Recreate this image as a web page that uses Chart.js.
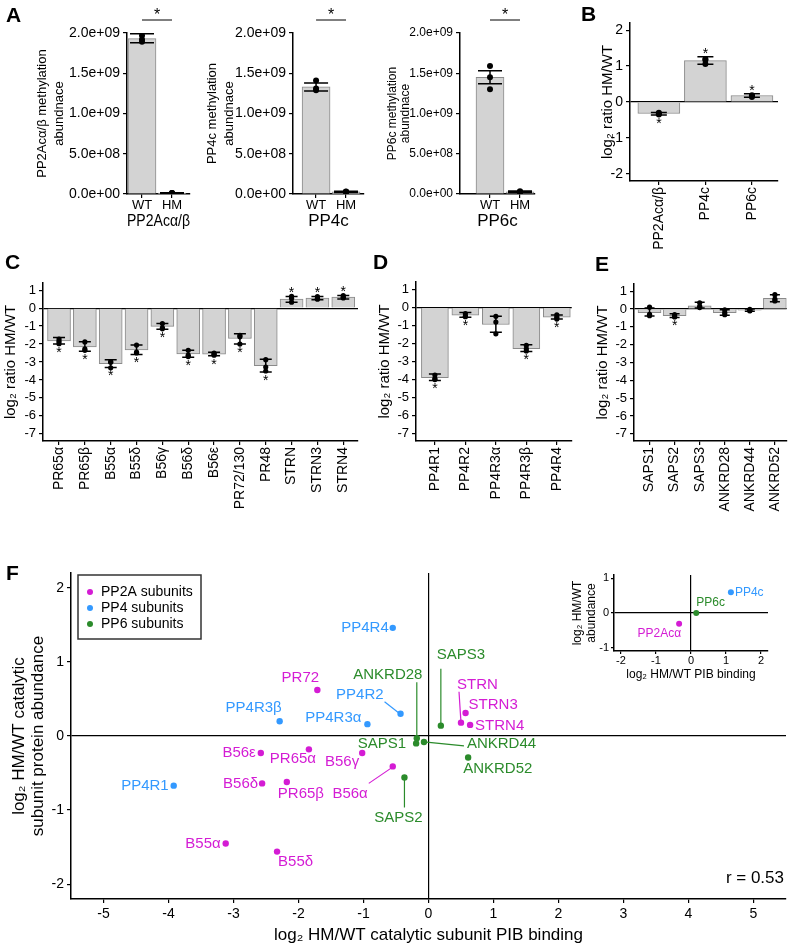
<!DOCTYPE html>
<html lang="en">
<head>
<meta charset="UTF-8">
<title>PP2A / PP4 / PP6 methylation</title>
<style>
  body { margin: 0; background: #fff; }
  #page { position: relative; width: 794px; height: 948px; font-family: "Liberation Sans", Arial, sans-serif; }
  .box { position: absolute; }
  .tag { position: absolute; font-weight: bold; font-size: 21px; line-height: 1; }
</style>
</head>
<body>
<div id="page">
  <div class="box" id="a1" style="left:0;top:0;width:200px;height:238px"><canvas></canvas></div>
  <div class="box" id="a2" style="left:190px;top:0;width:190px;height:238px"><canvas></canvas></div>
  <div class="box" id="a3" style="left:375px;top:0;width:180px;height:238px"><canvas></canvas></div>
  <div class="box" id="b" style="left:585px;top:0;width:209px;height:250px"><canvas></canvas></div>
  <div class="box" id="c" style="left:0;top:250px;width:370px;height:300px"><canvas></canvas></div>
  <div class="box" id="d" style="left:376px;top:250px;width:200px;height:300px"><canvas></canvas></div>
  <div class="box" id="e" style="left:580px;top:250px;width:214px;height:300px"><canvas></canvas></div>
  <div class="box" id="f" style="left:0;top:560px;width:794px;height:388px"><canvas></canvas></div>
  <div class="box" id="inset" style="left:560px;top:565px;width:234px;height:125px"><canvas></canvas></div>
  <div class="tag" style="left:6px;top:4px">A</div>
  <div class="tag" style="left:581px;top:3px">B</div>
  <div class="tag" style="left:5px;top:251px">C</div>
  <div class="tag" style="left:373px;top:251px">D</div>
  <div class="tag" style="left:595px;top:253px">E</div>
  <div class="tag" style="left:6px;top:562px">F</div>
</div>
<script src="https://cdn.jsdelivr.net/npm/chart.js"></script>
<script>
// ---- data ----
// A: methylated catalytic subunit abundance
const methLabels = ['WT', 'HM'];
const methTicks = [0, 5e8, 1e9, 1.5e9, 2e9];
const pp2acMeth = [1.93e9, 0.012e9];
const pp2acMethLow = [1.88e9, 0.008e9];
const pp2acMethHigh = [1.99e9, 0.016e9];
const pp2acMethReps = [[1.97e9, 1.92e9, 1.89e9], [0.011e9, 0.013e9, 0.010e9]];
const pp4cMeth = [1.33e9, 0.027e9];
const pp4cMethLow = [1.28e9, 0.020e9];
const pp4cMethHigh = [1.38e9, 0.034e9];
const pp4cMethReps = [[1.41e9, 1.31e9, 1.29e9], [0.030e9, 0.025e9, 0.027e9]];
const pp6cMeth = [1.45e9, 0.028e9];
const pp6cMethLow = [1.37e9, 0.020e9];
const pp6cMethHigh = [1.53e9, 0.036e9];
const pp6cMethReps = [[1.59e9, 1.45e9, 1.30e9], [0.035e9, 0.025e9, 0.024e9]];

// B: catalytic subunits, log2 HM/WT
const catLabels = ['PP2Acα/β', 'PP4c', 'PP6c'];
const catRatio = [-0.32, 1.15, 0.18];
const catLow = [-0.36, 1.05, 0.13];
const catHigh = [-0.29, 1.26, 0.23];
const catReps = [[-0.35, -0.33, -0.30], [1.20, 1.06, 1.17], [0.17, 0.19, 0.14]];
const catStar = [true, true, true];
const ratioTicksB = [-2, -1, 0, 1, 2];

// C: PP2A regulatory subunits
const pp2aLabels = ['PR65α', 'PR65β', 'B55α', 'B55δ', 'B56γ', 'B56δ', 'B56ε', 'PR72/130', 'PR48', 'STRN', 'STRN3', 'STRN4'];
const pp2aRatio = [-1.82, -2.16, -3.09, -2.33, -1.02, -2.55, -2.56, -1.69, -3.20, 0.51, 0.56, 0.62];
const pp2aLow = [-2.00, -2.40, -3.31, -2.58, -1.18, -2.73, -2.65, -2.00, -3.55, 0.33, 0.47, 0.51];
const pp2aHigh = [-1.64, -1.87, -2.87, -2.05, -0.85, -2.35, -2.45, -1.42, -2.84, 0.65, 0.65, 0.71];
const pp2aReps = [[-1.72, -1.85, -1.98], [-1.88, -2.27, -2.35], [-2.98, -3.02, -3.32], [-2.06, -2.45, -2.50],
  [-0.86, -1.15, -1.10], [-2.35, -2.62, -2.70], [-2.50, -2.58, -2.62], [-1.52, -1.60, -2.00],
  [-2.87, -3.28, -3.50], [0.66, 0.55, 0.33], [0.64, 0.55, 0.50], [0.70, 0.60, 0.57]];
const pp2aStar = [true, true, true, true, true, true, true, true, true, true, true, true];

// D: PP4 regulatory subunits
const pp4Labels = ['PP4R1', 'PP4R2', 'PP4R3α', 'PP4R3β', 'PP4R4'];
const pp4Ratio = [-3.89, -0.44, -0.95, -2.29, -0.55];
const pp4Low = [-4.05, -0.55, -1.38, -2.44, -0.65];
const pp4High = [-3.69, -0.29, -0.49, -2.07, -0.42];
const pp4Reps = [[-3.75, -3.95, -4.00], [-0.35, -0.50, -0.52], [-0.50, -0.82, -1.47], [-2.10, -2.30, -2.42], [-0.42, -0.55, -0.65]];
const pp4Star = [true, true, false, true, true];

// E: PP6 regulatory subunits
const pp6Labels = ['SAPS1', 'SAPS2', 'SAPS3', 'ANKRD28', 'ANKRD44', 'ANKRD52'];
const pp6Ratio = [-0.20, -0.38, 0.18, -0.20, -0.07, 0.60];
const pp6Low = [-0.40, -0.48, 0.05, -0.35, -0.13, 0.40];
const pp6High = [0.05, -0.27, 0.38, -0.04, 0.00, 0.80];
const pp6Reps = [[0.10, -0.30, -0.38], [-0.32, -0.42, -0.45], [0.35, 0.15, 0.08], [-0.05, -0.20, -0.32], [-0.02, -0.10, -0.10], [0.80, 0.55, 0.45]];
const pp6Star = [false, true, false, false, false, false];
const ratioTicksCDE = [-7, -6, -5, -4, -3, -2, -1, 0, 1];

// F: PIB binding vs protein abundance
const fPP2aNames = ['PR65α', 'PR65β', 'B55α', 'B55δ', 'B56α', 'B56γ', 'B56δ', 'B56ε', 'PR72', 'STRN', 'STRN3', 'STRN4'];
const fPP2aBinding = [-1.84, -2.18, -3.12, -2.33, -0.55, -1.02, -2.56, -2.58, -1.71, 0.50, 0.57, 0.64];
const fPP2aAbundance = [-0.18, -0.62, -1.45, -1.56, -0.41, -0.23, -0.64, -0.23, 0.62, 0.18, 0.31, 0.15];
const fPP4Names = ['PP4R1', 'PP4R2', 'PP4R3α', 'PP4R3β', 'PP4R4'];
const fPP4Binding = [-3.92, -0.43, -0.94, -2.29, -0.55];
const fPP4Abundance = [-0.67, 0.30, 0.16, 0.20, 1.46];
const fPP6Names = ['SAPS1', 'SAPS2', 'SAPS3', 'ANKRD28', 'ANKRD44', 'ANKRD52'];
const fPP6Binding = [-0.19, -0.37, 0.19, -0.18, -0.07, 0.61];
const fPP6Abundance = [-0.10, -0.56, 0.14, -0.03, -0.08, -0.29];
const fXTicks = [-5, -4, -3, -2, -1, 0, 1, 2, 3, 4, 5];
const fYTicks = [-2, -1, 0, 1, 2];
const fR = 0.53;

// F inset: catalytic subunits
const insetNames = ['PP2Acα', 'PP4c', 'PP6c'];
const insetBinding = [-0.34, 1.14, 0.15];
const insetAbundance = [-0.31, 0.60, 0.00];
const insetXTicks = [-2, -1, 0, 1, 2];
const insetYTicks = [-1, 0, 1];

// ---- styles ----
const FONT = '"Liberation Sans", Arial, sans-serif';
const MAGENTA = '#d41cd4', BLUE = '#3399ff', GREEN = '#2b8b2b';
Chart.defaults.font.family = FONT;
Chart.defaults.color = '#000';
Chart.defaults.animation = false;

const fixWidth = (w) => (s) => { s.width = w; };
const fixHeight = (h) => (s) => { s.height = h; };
const setTicks = (vals) => (s) => { s.ticks = vals.map(v => ({value: v})); };
const zeroOnly = (c) => (c.tick && c.tick.value === 0 ? '#000' : 'rgba(0,0,0,0)');
const sci = (v) => Number(v).toExponential(1).replace(/e([+-])(\d)$/, 'e$10$2');
const axisBorder = {display: true, color: '#000', width: 1.5};

function barPanel(id, d, o) {
  const reps = [];
  d.reps.forEach((r, i) => r.forEach(v => reps.push({x: i, y: v})));
  const extras = {
    id: 'extras',
    afterDatasetsDraw(chart) {
      const {ctx, chartArea, scales: {x, y}} = chart;
      ctx.save();
      ctx.strokeStyle = '#000';
      ctx.fillStyle = '#000';
      ctx.lineWidth = 1.5;
      d.low.forEach((lo, i) => {
        const px = x.getPixelForValue(i);
        const yl = y.getPixelForValue(lo), yh = y.getPixelForValue(d.high[i]);
        ctx.beginPath();
        ctx.moveTo(px, yl); ctx.lineTo(px, yh);
        ctx.moveTo(px - o.cap, yl); ctx.lineTo(px + o.cap, yl);
        ctx.moveTo(px - o.cap, yh); ctx.lineTo(px + o.cap, yh);
        ctx.stroke();
        if (d.stars && d.stars[i]) {
          ctx.font = '14px ' + FONT;
          ctx.textAlign = 'center';
          ctx.textBaseline = 'middle';
          ctx.fillText('*', px, d.means[i] < 0 ? yl + 9 : yh - 3);
        }
      });
      if (o.sig) {
        const x0 = x.getPixelForValue(0), x1 = x.getPixelForValue(1), t = chartArea.top;
        ctx.lineWidth = 1;
        ctx.beginPath();
        ctx.moveTo(x0, t - 13); ctx.lineTo(x1, t - 13);
        ctx.stroke();
        ctx.font = '16px ' + FONT;
        ctx.textAlign = 'center';
        ctx.textBaseline = 'middle';
        ctx.fillText('*', (x0 + x1) / 2, t - 17);
      }
      ctx.restore();
    }
  };
  return new Chart(document.querySelector('#' + id + ' canvas'), {
    type: 'bar',
    data: {
      datasets: [
        {type: 'bar', data: d.means.map((v, i) => ({x: i, y: v})), backgroundColor: '#d3d3d3',
         borderColor: '#8a8a8a', borderWidth: 1, barThickness: o.barPx, order: 2},
        {type: 'scatter', data: reps, pointRadius: o.dot, backgroundColor: '#000', borderWidth: 0, order: 1}
      ]
    },
    options: {
      responsive: true,
      maintainAspectRatio: false,
      layout: {padding: {top: o.padTop, right: o.padRight, left: 0, bottom: 0}},
      plugins: {legend: {display: false}, tooltip: {enabled: false}},
      scales: {
        x: {
          type: 'linear', min: o.xMin, max: o.xMax, offset: false,
          afterBuildTicks: setTicks(d.labels.map((_, i) => i)),
          afterFit: fixHeight(o.xH),
          ticks: {callback: (v) => d.labels[v], maxRotation: o.rot, minRotation: o.rot, autoSkip: false,
                  font: {size: o.xFont}, padding: o.xPad === undefined ? 2 : o.xPad},
          grid: {offset: false, drawOnChartArea: false, color: '#000', tickLength: 4, lineWidth: 1.2},
          border: axisBorder,
          title: o.xTitle ? {display: true, text: o.xTitle, font: {size: 17}, padding: {top: 0, bottom: 6}} : {display: false}
        },
        y: {
          min: o.yMin, max: o.yMax,
          afterBuildTicks: setTicks(o.yTicks),
          afterFit: fixWidth(o.yW),
          ticks: {font: {size: o.yFont}, padding: 3, callback: o.yFmt || ((v) => v)},
          grid: {drawOnChartArea: !!o.zero, color: zeroOnly, tickColor: '#000', tickLength: 4, lineWidth: 1.2},
          border: axisBorder,
          title: {display: true, text: o.yTitle, font: {size: o.yTitleSize, lineHeight: o.yTitleLH},
                  padding: {top: o.yTitlePad, bottom: 0}}
        }
      }
    },
    plugins: [extras]
  });
}

// A
const aCommon = {barPx: 28, dot: 3, cap: 12, sig: true, padTop: 33, xH: 44, rot: 0, xFont: 13, xPad: 0,
  yMin: 0, yMax: 2e9, yTicks: methTicks, yFont: 14, yFmt: sci, yTitleSize: 13, yTitleLH: 1.3};
barPanel('a1', {labels: methLabels, means: pp2acMeth, low: pp2acMethLow, high: pp2acMethHigh, reps: pp2acMethReps},
  Object.assign({}, aCommon, {padRight: 10, xMin: -0.5, xMax: 1.6, yW: 127, xTitle: 'PP2Acα/β',
    yTitle: ['PP2Acα/β methylation', 'abundnace'], yTitlePad: 34}));
barPanel('a2', {labels: methLabels, means: pp4cMeth, low: pp4cMethLow, high: pp4cMethHigh, reps: pp4cMethReps},
  Object.assign({}, aCommon, {padRight: 16, xMin: -0.77, xMax: 1.6, yW: 103, xTitle: 'PP4c',
    yTitle: ['PP4c methylation', 'abundnace'], yTitlePad: 14}));
barPanel('a3', {labels: methLabels, means: pp6cMeth, low: pp6cMethLow, high: pp6cMethHigh, reps: pp6cMethReps},
  Object.assign({}, aCommon, {padRight: 20, xMin: -1, xMax: 1.5, yW: 85, xTitle: 'PP6c', yFont: 12,
    yTitle: ['PP6c methylation', 'abundnace'], yTitleSize: 12, yTitlePad: 11, yTitleLH: 1.1}));

// B
barPanel('b', {labels: catLabels, means: catRatio, low: catLow, high: catHigh, reps: catReps, stars: catStar},
  {barPx: 42, dot: 3, cap: 8, padTop: 23, padRight: 16, xH: 69, rot: 90, xFont: 14, xMin: -0.62, xMax: 2.56,
   yMin: -2.2, yMax: 2.2, yTicks: ratioTicksB, yFont: 14, yW: 45, zero: true,
   yTitle: 'log₂ ratio HM/WT', yTitleSize: 15, yTitleLH: 1.2, yTitlePad: 14});

// C, D, E
const cdeCommon = {dot: 2.6, cap: 6, xH: 109, rot: 90, xFont: 14, yMin: -7.4, yMax: 1.4, yTicks: ratioTicksCDE,
  yFont: 13, zero: true, yTitle: 'log₂ ratio HM/WT', yTitleSize: 15, yTitleLH: 1.2};
barPanel('c', {labels: pp2aLabels, means: pp2aRatio, low: pp2aLow, high: pp2aHigh, reps: pp2aReps, stars: pp2aStar},
  Object.assign({}, cdeCommon, {barPx: 23, padTop: 33, padRight: 12, xMin: -0.62, xMax: 11.57, yW: 43, yTitlePad: 2}));
barPanel('d', {labels: pp4Labels, means: pp4Ratio, low: pp4Low, high: pp4High, reps: pp4Reps, stars: pp4Star},
  Object.assign({}, cdeCommon, {barPx: 27, padTop: 32, padRight: 4, xMin: -0.62, xMax: 4.49, yW: 40, yTitlePad: 0}));
barPanel('e', {labels: pp6Labels, means: pp6Ratio, low: pp6Low, high: pp6High, reps: pp6Reps, stars: pp6Star},
  Object.assign({}, cdeCommon, {barPx: 23, cap: 5, padTop: 34, padRight: 4, xMin: -0.62, xMax: 5.47, yW: 54, yTitlePad: 14}));

// F label placement: [align, dx, dy, optional leader line [x1, y1, x2, y2]] relative to the point
const fLabelPlace = {
  'PR65α': ['center', -16, 10], 'PR65β': ['left', -9, 12], 'B55α': ['right', -5, 0], 'B55δ': ['left', 1, 10],
  'B56α': ['right', -25, 27, [-24, 17, -2, 2]], 'B56γ': ['right', -3, 9], 'B56δ': ['right', -4, 0],
  'B56ε': ['right', -5, 0], 'PR72': ['center', -17, -12], 'STRN': ['left', -4, -38, [-2, -31, 0, 0]],
  'STRN3': ['left', 3, -8], 'STRN4': ['left', 5, 1],
  'PP4R1': ['right', -5, 0], 'PP4R2': ['right', -17, -19, [-16, -12, -2, -1]], 'PP4R3α': ['right', -6, -6],
  'PP4R3β': ['center', -26, -13], 'PP4R4': ['right', -4, 0],
  'SAPS1': ['right', -10, 0], 'SAPS2': ['center', -6, 40, [0, 0, 0, 30]], 'SAPS3': ['left', -4, -71, [0, -57, 0, 0]],
  'ANKRD28': ['center', -29, -63, [0, -56, 0, 0]], 'ANKRD44': ['left', 43, 2, [0, 0, 40, 4]],
  'ANKRD52': ['left', -5, 11],
  'PP2Acα': ['right', 2, 10], 'PP4c': ['left', 4, 0], 'PP6c': ['left', 0, -10]
};

function labelPlugin(size) {
  return {
    id: 'pointLabels',
    afterDatasetsDraw(chart) {
      const {ctx} = chart;
      ctx.save();
      ctx.font = size + 'px ' + FONT;
      ctx.textBaseline = 'middle';
      chart.data.datasets.forEach((ds, di) => {
        const meta = chart.getDatasetMeta(di);
        ds.names.forEach((name, i) => {
          const pt = meta.data[i];
          const col = Array.isArray(ds.labelColor) ? ds.labelColor[i] : ds.labelColor;
          const p = fLabelPlace[name] || ['left', 5, 0];
          ctx.fillStyle = col;
          ctx.strokeStyle = col;
          ctx.lineWidth = 1.2;
          if (p[3]) {
            ctx.beginPath();
            ctx.moveTo(pt.x + p[3][0], pt.y + p[3][1]);
            ctx.lineTo(pt.x + p[3][2], pt.y + p[3][3]);
            ctx.stroke();
          }
          ctx.textAlign = p[0];
          ctx.fillText(name, pt.x + p[1], pt.y + p[2]);
        });
      });
      ctx.restore();
    }
  };
}

const fGroups = [
  {name: 'PP2A subunits', color: MAGENTA, names: fPP2aNames, bind: fPP2aBinding, abund: fPP2aAbundance},
  {name: 'PP4 subunits', color: BLUE, names: fPP4Names, bind: fPP4Binding, abund: fPP4Abundance},
  {name: 'PP6 subunits', color: GREEN, names: fPP6Names, bind: fPP6Binding, abund: fPP6Abundance}
];

const fLegend = {
  id: 'fLegend',
  afterDraw(chart) {
    const {ctx, chartArea: a} = chart;
    ctx.save();
    const bx = a.left + 7, by = a.top + 2;
    ctx.strokeStyle = '#333';
    ctx.lineWidth = 1.5;
    ctx.strokeRect(bx, by, 123, 64);
    ctx.font = '14px ' + FONT;
    ctx.textBaseline = 'middle';
    ctx.textAlign = 'left';
    fGroups.forEach((g, i) => {
      const yy = by + 17 + i * 16;
      ctx.fillStyle = g.color;
      ctx.beginPath();
      ctx.arc(bx + 12, yy, 3, 0, Math.PI * 2);
      ctx.fill();
      ctx.fillStyle = '#000';
      ctx.fillText(g.name, bx + 23, yy);
    });
    ctx.font = '17px ' + FONT;
    ctx.textAlign = 'right';
    ctx.fillText('r = ' + fR.toFixed(2), a.right - 2, a.bottom - 21);
    ctx.restore();
  }
};

new Chart(document.querySelector('#f canvas'), {
  type: 'scatter',
  data: {
    datasets: fGroups.map(g => ({
      label: g.name, names: g.names, labelColor: g.color,
      data: g.names.map((n, i) => ({x: g.bind[i], y: g.abund[i]})),
      backgroundColor: g.color, pointRadius: 3.2, borderWidth: 0
    }))
  },
  options: {
    responsive: true,
    maintainAspectRatio: false,
    layout: {padding: {top: 13, right: 8, left: 0, bottom: 0}},
    plugins: {legend: {display: false}, tooltip: {enabled: false}},
    scales: {
      x: {
        min: -5.5, max: 5.5,
        afterBuildTicks: setTicks(fXTicks),
        afterFit: fixHeight(49),
        ticks: {font: {size: 14}, padding: 3},
        grid: {color: zeroOnly, tickColor: '#000', tickLength: 4, lineWidth: 1.2},
        border: axisBorder,
        title: {display: true, text: 'log₂ HM/WT catalytic subunit PIB binding', font: {size: 17}, padding: {top: 0, bottom: 2}}
      },
      y: {
        min: -2.2, max: 2.2,
        afterBuildTicks: setTicks(fYTicks),
        afterFit: fixWidth(71),
        ticks: {font: {size: 14}, padding: 3},
        grid: {color: zeroOnly, tickColor: '#000', tickLength: 4, lineWidth: 1.2},
        border: axisBorder,
        title: {display: true, text: ['log₂ HM/WT catalytic', 'subunit protein abundance'],
                font: {size: 17, lineHeight: 1.1}, padding: {top: 10, bottom: 0}}
      }
    }
  },
  plugins: [labelPlugin(15), fLegend]
});

// inset
const insetColors = [MAGENTA, BLUE, GREEN];
new Chart(document.querySelector('#inset canvas'), {
  type: 'scatter',
  data: {
    datasets: [{
      names: insetNames, labelColor: insetColors,
      data: insetNames.map((n, i) => ({x: insetBinding[i], y: insetAbundance[i]})),
      backgroundColor: insetColors, pointRadius: 3, borderWidth: 0
    }]
  },
  options: {
    responsive: true,
    maintainAspectRatio: false,
    layout: {padding: {top: 10, right: 26, left: 0, bottom: 0}},
    plugins: {legend: {display: false}, tooltip: {enabled: false}},
    scales: {
      x: {
        min: -2.2, max: 2.2,
        afterBuildTicks: setTicks(insetXTicks),
        afterFit: fixHeight(39),
        ticks: {font: {size: 11}, padding: 0},
        grid: {color: zeroOnly, tickColor: '#000', tickLength: 3, lineWidth: 1.2},
        border: axisBorder,
        title: {display: true, text: 'log₂ HM/WT PIB binding', font: {size: 12}, padding: {top: 0, bottom: 8}}
      },
      y: {
        min: -1.1, max: 1.1,
        afterBuildTicks: setTicks(insetYTicks),
        afterFit: fixWidth(54),
        ticks: {font: {size: 11}, padding: 2},
        grid: {color: zeroOnly, tickColor: '#000', tickLength: 3, lineWidth: 1.2},
        border: axisBorder,
        title: {display: true, text: ['log₂ HM/WT', 'abundance'], font: {size: 12, lineHeight: 1.17},
                padding: {top: 11, bottom: 0}}
      }
    }
  },
  plugins: [labelPlugin(12)]
});
</script>
</body>
</html>
